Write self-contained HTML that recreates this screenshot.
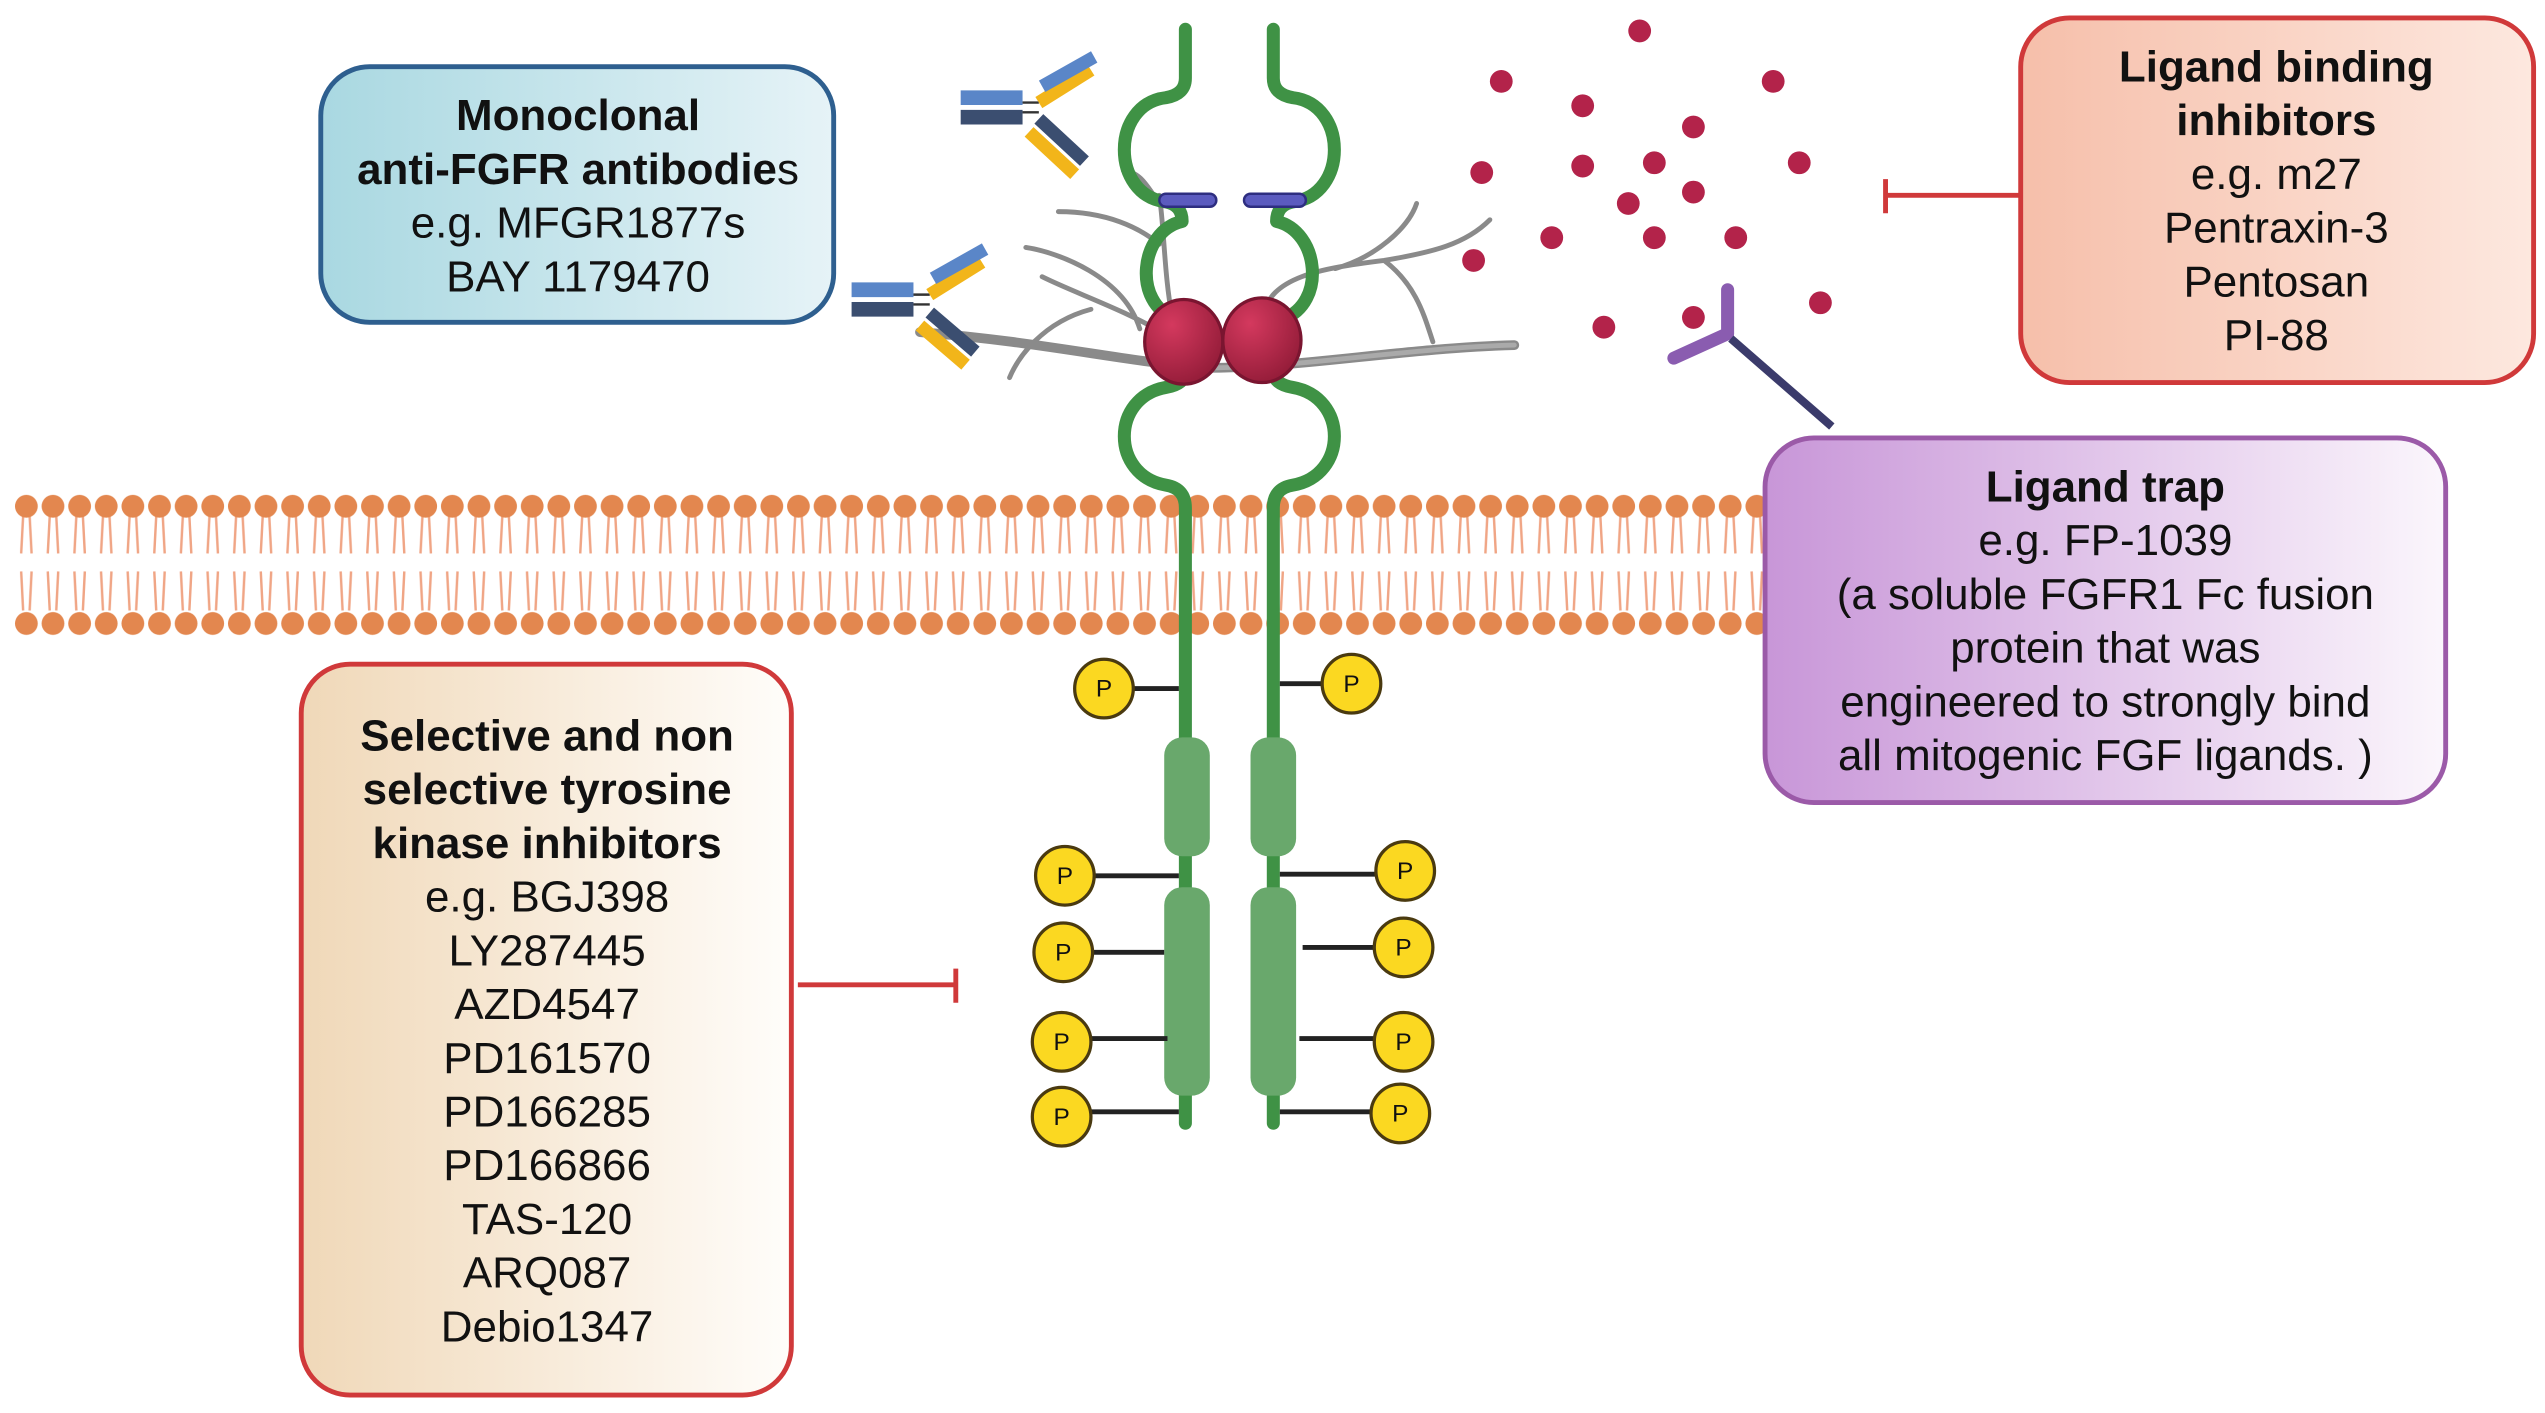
<!DOCTYPE html>
<html><head><meta charset="utf-8"><style>
html,body{margin:0;padding:0;background:#fff;}
svg{display:block;}
text{font-family:"Liberation Sans",sans-serif;fill:#111;}
</style></head><body>
<svg width="2545" height="1413" viewBox="0 0 1563 868" preserveAspectRatio="none" xmlns="http://www.w3.org/2000/svg">
<defs>
<pattern id="mem" x="8" y="300" width="16.35" height="96" patternUnits="userSpaceOnUse">
<path d="M6.2 17 L5 40 M10.2 17 L11.4 40 M5 51 L6.2 75 M11.4 51 L10.2 75" stroke="#f0a585" stroke-width="1.5" fill="none"/>
<circle cx="8.2" cy="11" r="7" fill="#e3874f"/>
<circle cx="8.2" cy="83" r="7" fill="#e3874f"/>
</pattern>
<linearGradient id="gb" x1="0" x2="1"><stop offset="0" stop-color="#a9d8e1"/><stop offset="1" stop-color="#e6f3f7"/></linearGradient>
<linearGradient id="gr" x1="0" x2="1"><stop offset="0" stop-color="#f6bfaa"/><stop offset="1" stop-color="#fde8df"/></linearGradient>
<linearGradient id="gp" x1="0" x2="1"><stop offset="0" stop-color="#c896d8"/><stop offset="1" stop-color="#fbf6fc"/></linearGradient>
<linearGradient id="gy" x1="0" x2="1"><stop offset="0" stop-color="#f0d8b8"/><stop offset="1" stop-color="#fffdfa"/></linearGradient>
<radialGradient id="fgf" cx="0.35" cy="0.3" r="0.8"><stop offset="0" stop-color="#d4395e"/><stop offset="1" stop-color="#8f1a36"/></radialGradient>
</defs>

<rect x="8" y="300" width="1076" height="96" fill="url(#mem)"/>

<g fill="none" stroke="#8a8a8a" stroke-linecap="round">
<path d="M565 204 C640 210 690 222 740 226 C800 226 860 214 930 212" stroke-width="6"/>
<path d="M740 226 C800 226 860 214 930 212" stroke-width="3" stroke="#aaa"/>
<path d="M715 205 C690 190 660 180 640 170 M670 190 C640 198 625 220 620 232 M700 202 C690 170 650 155 630 152" stroke-width="3"/>
<path d="M720 195 C715 170 715 140 712 120 M712 150 C700 140 680 130 650 130 M712 125 C705 115 700 105 690 105" stroke-width="3"/>
<path d="M775 195 C780 170 810 165 850 160 C880 155 900 150 915 135 M850 160 C870 175 875 195 880 210 M820 165 C845 158 865 140 870 125" stroke-width="3"/>
</g>

<g fill="none" stroke="#3f9245" stroke-width="8" stroke-linecap="round" stroke-linejoin="round">
<path d="M728 18 V48 Q728 58 716 60 C682 64 682 120 716 124 Q726 126 726 136 C700 142 695 186 722 196 Q728 200 728 210 V228 Q728 236 716 238 C682 244 682 292 716 298 Q728 300 728 312 V690"/>
<path d="M782 18 V48 Q782 58 794 60 C828 64 828 120 794 124 Q784 126 784 136 C810 142 815 186 788 196 Q782 200 782 210 V228 Q782 236 794 238 C828 244 828 292 794 298 Q782 300 782 312 V690"/>
</g>
<g fill="#69a86c">
<rect x="715" y="453" width="28" height="73" rx="11"/>
<rect x="768" y="453" width="28" height="73" rx="11"/>
<rect x="715" y="545" width="28" height="128" rx="11"/>
<rect x="768" y="545" width="28" height="128" rx="11"/>
</g>
<rect x="712" y="119" width="35" height="8" rx="4" fill="#5b5bbf" stroke="#2e2e80" stroke-width="1.5"/>
<rect x="764" y="119" width="38" height="8" rx="4" fill="#5b5bbf" stroke="#2e2e80" stroke-width="1.5"/>

<ellipse cx="727" cy="210" rx="24" ry="26" fill="url(#fgf)" stroke="#7a1530" stroke-width="2"/>
<ellipse cx="775" cy="209" rx="24" ry="26" fill="url(#fgf)" stroke="#7a1530" stroke-width="2"/>

<g stroke-linecap="butt">
<g transform="translate(590,55)">
<path d="M0 5 H38" stroke="#5a86c8" stroke-width="9"/>
<path d="M0 17 H38" stroke="#3b4e70" stroke-width="9"/>
<path d="M38 8 L48 8 M38 14 L48 14" stroke="#333" stroke-width="1.5"/>
<path d="M48 8 L80 -12" stroke="#f2b51a" stroke-width="8"/>
<path d="M50 -2 L82 -20" stroke="#5a86c8" stroke-width="8"/>
<path d="M48 18 L76 44" stroke="#3b4e70" stroke-width="8"/>
<path d="M42 26 L70 52" stroke="#f2b51a" stroke-width="8"/>
</g>
<g transform="translate(523,178)">
<path d="M0 0 H38" stroke="#5a86c8" stroke-width="9"/>
<path d="M0 12 H38" stroke="#3b4e70" stroke-width="9"/>
<path d="M38 3 L48 3 M38 9 L48 9" stroke="#333" stroke-width="1.5"/>
<path d="M48 3 L80 -17" stroke="#f2b51a" stroke-width="8"/>
<path d="M50 -7 L82 -25" stroke="#5a86c8" stroke-width="8"/>
<path d="M48 14 L76 38" stroke="#3b4e70" stroke-width="8"/>
<path d="M42 22 L70 46" stroke="#f2b51a" stroke-width="8"/>
</g>
</g>

<g fill="#b3234a">
<circle cx="1007" cy="19" r="7"/><circle cx="922" cy="50" r="7"/><circle cx="972" cy="65" r="7"/>
<circle cx="1089" cy="50" r="7"/><circle cx="1040" cy="78" r="7"/><circle cx="910" cy="106" r="7"/>
<circle cx="972" cy="102" r="7"/><circle cx="1016" cy="100" r="7"/><circle cx="1105" cy="100" r="7"/>
<circle cx="1000" cy="125" r="7"/><circle cx="1040" cy="118" r="7"/><circle cx="953" cy="146" r="7"/>
<circle cx="1016" cy="146" r="7"/><circle cx="1066" cy="146" r="7"/><circle cx="905" cy="160" r="7"/>
<circle cx="985" cy="201" r="7"/><circle cx="1040" cy="195" r="7"/><circle cx="1118" cy="186" r="7"/>
</g>
<path d="M1061 178 V205 L1028 220" stroke="#8a5cb0" stroke-width="8" fill="none" stroke-linecap="round" stroke-linejoin="round"/>
<path d="M1063 208 L1125 262" stroke="#3b3b6b" stroke-width="5" fill="none"/>

<g stroke="#222" stroke-width="3">
<path d="M696 423 H724 M786 420 H812 M672 538 H724 M786 537 H845 M671 585 H715 M800 582 H844 M670 638 H717 M798 638 H844 M670 683 H724 M786 683 H842"/>
</g>
<g fill="#fbd821" stroke="#4a3a10" stroke-width="2">
<circle cx="678" cy="423" r="18"/><circle cx="830" cy="420" r="18"/>
<circle cx="654" cy="538" r="18"/><circle cx="863" cy="535" r="18"/>
<circle cx="653" cy="585" r="18"/><circle cx="862" cy="582" r="18"/>
<circle cx="652" cy="640" r="18"/><circle cx="862" cy="640" r="18"/>
<circle cx="652" cy="686" r="18"/><circle cx="860" cy="684" r="18"/>
</g>
<g font-size="15" text-anchor="middle">
<text x="678" y="428">P</text><text x="830" y="425">P</text>
<text x="654" y="543">P</text><text x="863" y="540">P</text>
<text x="653" y="590">P</text><text x="862" y="587">P</text>
<text x="652" y="645">P</text><text x="862" y="645">P</text>
<text x="652" y="691">P</text><text x="860" y="689">P</text>
</g>

<g stroke="#d0393a" stroke-width="3" fill="none">
<path d="M1240 120 H1158 M1158 110 V131"/>
<path d="M490 605 H587 M587 595 V616"/>
</g>

<rect x="197" y="41" width="315" height="157" rx="30" fill="url(#gb)" stroke="#2e5f8f" stroke-width="3"/>
<rect x="1241" y="11" width="315" height="224" rx="30" fill="url(#gr)" stroke="#d0393a" stroke-width="3"/>
<rect x="1084" y="269" width="418" height="224" rx="30" fill="url(#gp)" stroke="#9b5aa8" stroke-width="3"/>
<rect x="185" y="408" width="301" height="449" rx="30" fill="url(#gy)" stroke="#d0393a" stroke-width="3"/>

<g font-size="27" text-anchor="middle">
<text x="355" y="80" font-weight="bold">Monoclonal</text>
<text x="355" y="113"><tspan font-weight="bold">anti-FGFR antibodie</tspan>s</text>
<text x="355" y="146">e.g. MFGR1877s</text>
<text x="355" y="179">BAY 1179470</text>

<text x="1398" y="50" font-weight="bold">Ligand binding</text>
<text x="1398" y="83" font-weight="bold">inhibitors</text>
<text x="1398" y="116">e.g. m27</text>
<text x="1398" y="149">Pentraxin-3</text>
<text x="1398" y="182">Pentosan</text>
<text x="1398" y="215">PI-88</text>

<text x="1293" y="308" font-weight="bold">Ligand trap</text>
<text x="1293" y="341">e.g. FP-1039</text>
<text x="1293" y="374">(a soluble FGFR1 Fc fusion</text>
<text x="1293" y="407">protein that was</text>
<text x="1293" y="440">engineered to strongly bind</text>
<text x="1293" y="473">all mitogenic FGF ligands. )</text>

<text x="336" y="461" font-weight="bold">Selective and non</text>
<text x="336" y="494" font-weight="bold">selective tyrosine</text>
<text x="336" y="527" font-weight="bold">kinase inhibitors</text>
<text x="336" y="560">e.g. BGJ398</text>
<text x="336" y="593">LY287445</text>
<text x="336" y="626">AZD4547</text>
<text x="336" y="659">PD161570</text>
<text x="336" y="692">PD166285</text>
<text x="336" y="725">PD166866</text>
<text x="336" y="758">TAS-120</text>
<text x="336" y="791">ARQ087</text>
<text x="336" y="824">Debio1347</text>
</g>
</svg>
</body></html>
